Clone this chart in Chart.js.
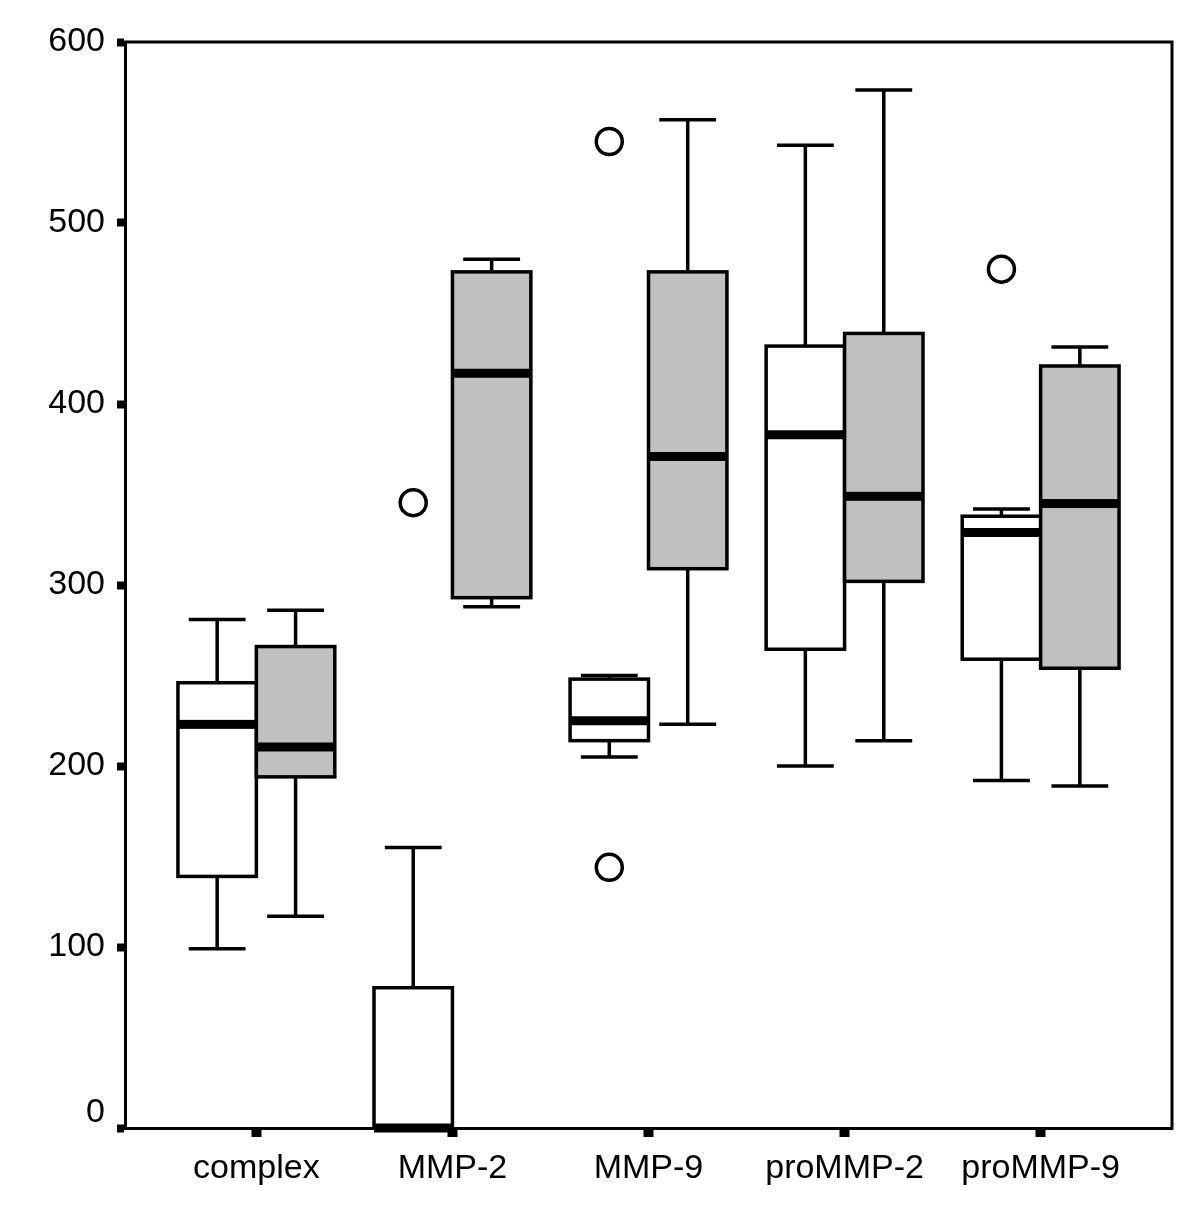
<!DOCTYPE html>
<html>
<head>
<meta charset="utf-8">
<script src="https://cdn.jsdelivr.net/npm/chart.js@4.4.1/dist/chart.umd.min.js"></script>
<style>
html,body{margin:0;padding:0;background:#fff;}
canvas{display:block;}
</style>
</head>
<body>
<canvas id="c" width="1200" height="1223"></canvas>
<script>
// ---- data ----
const categories = ['complex', 'MMP-2', 'MMP-9', 'proMMP-2', 'proMMP-9'];
const yTicks = [0, 100, 200, 300, 400, 500, 600];

// white boxes (first group)
const whiteMin    = [99, 0, 205, 200, 192];
const whiteQ1     = [139, 0, 214, 264.5, 259];
const whiteMedian = [223, 0, 225, 383, 329];
const whiteQ3     = [246, 77.5, 248, 432, 338];
const whiteMax    = [281, 155, 250, 543, 342];

// grey boxes (second group)
const greyMin    = [117, 288, 223, 214, 189];
const greyQ1     = [194, 293, 309, 302, 254];
const greyMedian = [210.5, 417, 371, 349, 345];
const greyQ3     = [266, 473, 473, 439, 421];
const greyMax    = [286, 480, 557, 573.5, 431.5];

// outliers: [category index, value] (all belong to white group)
const whiteOutlierCat = [1, 2, 2, 4];
const whiteOutlierVal = [345.5, 545, 144, 474.5];

// ---- styling ----
const FONT = {family: '"Liberation Sans", Arial, sans-serif', size: 34};
const groupOffset = 0.2, boxHalf = 0.2, capHalf = 0.145;

const groups = [
  {off: -groupOffset, fill: '#ffffff', min: whiteMin, q1: whiteQ1, med: whiteMedian, q3: whiteQ3, max: whiteMax},
  {off:  groupOffset, fill: '#c0c0c0', min: greyMin,  q1: greyQ1,  med: greyMedian,  q3: greyQ3,  max: greyMax}
];

const boxPlugin = {
  id: 'boxes',
  beforeDatasetsDraw(chart) {
    const ctx = chart.ctx, xs = chart.scales.x, ys = chart.scales.y, ca = chart.chartArea;
    ctx.save();
    // top and right frame
    ctx.strokeStyle = '#000'; ctx.lineWidth = 3; ctx.lineCap = 'square';
    ctx.beginPath();
    ctx.moveTo(ca.left, ca.top); ctx.lineTo(ca.right, ca.top); ctx.lineTo(ca.right, ca.bottom);
    ctx.stroke();
    ctx.lineCap = 'butt';
    groups.forEach(g => {
      categories.forEach((c, i) => {
        const xc = xs.getPixelForValue(i + g.off);
        const xl = xs.getPixelForValue(i + g.off - boxHalf);
        const xr = xs.getPixelForValue(i + g.off + boxHalf);
        const cl = xs.getPixelForValue(i + g.off - capHalf);
        const cr = xs.getPixelForValue(i + g.off + capHalf);
        const yMin = ys.getPixelForValue(g.min[i]);
        const yQ1 = ys.getPixelForValue(g.q1[i]);
        const yMed = ys.getPixelForValue(g.med[i]);
        const yQ3 = ys.getPixelForValue(g.q3[i]);
        const yMax = ys.getPixelForValue(g.max[i]);
        ctx.strokeStyle = '#000'; ctx.lineWidth = 3.5;
        // whiskers
        ctx.beginPath();
        if (yMax < yQ3) { ctx.moveTo(xc, yQ3); ctx.lineTo(xc, yMax); ctx.moveTo(cl, yMax); ctx.lineTo(cr, yMax); }
        if (yMin > yQ1) { ctx.moveTo(xc, yQ1); ctx.lineTo(xc, yMin); ctx.moveTo(cl, yMin); ctx.lineTo(cr, yMin); }
        ctx.stroke();
        // box
        ctx.fillStyle = g.fill;
        ctx.fillRect(xl, yQ3, xr - xl, yQ1 - yQ3);
        ctx.strokeRect(xl, yQ3, xr - xl, yQ1 - yQ3);
        // median
        ctx.fillStyle = '#000';
        ctx.fillRect(xl, yMed - 4.5, xr - xl, 9);
      });
    });
    // the "0" label sits above its tick in the reference
    ctx.font = FONT.size + 'px ' + FONT.family;
    ctx.fillStyle = '#000'; ctx.textAlign = 'right'; ctx.textBaseline = 'middle';
    ctx.fillText(String(yTicks[0]), 105, ys.getPixelForValue(yTicks[0]) - 15);
    ctx.restore();
  }
};

new Chart(document.getElementById('c'), {
  type: 'scatter',
  data: {
    datasets: [{
      label: 'outliers',
      data: whiteOutlierCat.map((c, k) => ({x: c - groupOffset, y: whiteOutlierVal[k]})),
      pointStyle: 'circle',
      pointRadius: 13,
      pointHoverRadius: 13,
      pointBackgroundColor: '#ffffff',
      pointBorderColor: '#000000',
      pointBorderWidth: 3.5,
      showLine: false
    }]
  },
  options: {
    responsive: false,
    animation: false,
    devicePixelRatio: 1,
    layout: {padding: {top: 42, right: 28, left: 0, bottom: 0}},
    plugins: {legend: {display: false}, tooltip: {enabled: false}},
    scales: {
      x: {
        type: 'linear',
        min: -0.67, max: 4.67,
        afterBuildTicks: s => { s.ticks = categories.map((c, i) => ({value: i})); },
        afterFit: s => { s.height = 95; },
        ticks: {
          callback: v => categories[v] !== undefined ? categories[v] : '',
          color: '#000', font: FONT, padding: 11, maxRotation: 0, autoSkip: false
        },
        grid: {display: true, drawOnChartArea: false, drawTicks: true, tickLength: 9, tickWidth: 10, tickColor: '#000', color: '#000'},
        border: {display: true, color: '#000', width: 3}
      },
      y: {
        type: 'linear',
        min: 0, max: 600,
        afterBuildTicks: s => { s.ticks = yTicks.map(v => ({value: v})); },
        afterFit: s => { s.width = 125; },
        ticks: {
          callback: v => v === 0 ? '' : String(v),
          color: '#000', font: FONT, padding: 12
        },
        grid: {display: true, drawOnChartArea: false, drawTicks: true, tickLength: 8, tickWidth: 8, tickColor: '#000', color: '#000'},
        border: {display: true, color: '#000', width: 3}
      }
    }
  },
  plugins: [boxPlugin]
});
</script>
</body>
</html>
